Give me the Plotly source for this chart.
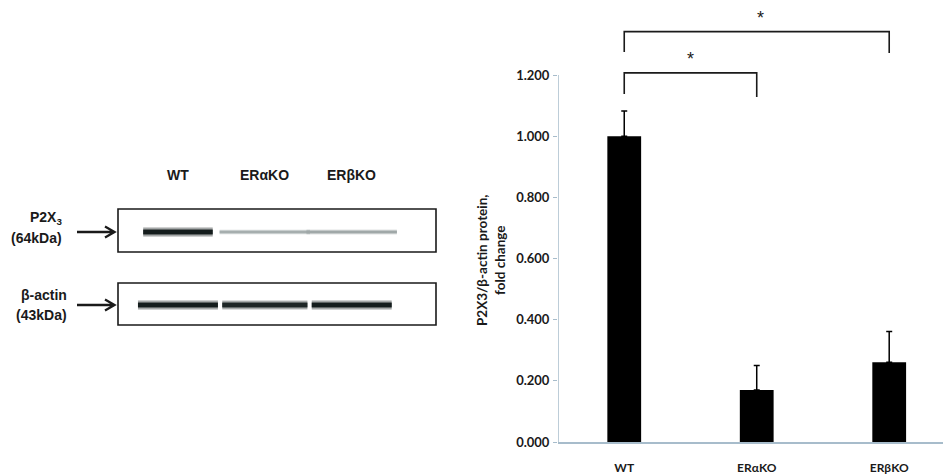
import plotly.graph_objects as go

W, H = 943, 476

# ---------------- data ----------------
categories = ["WT", "ERαKO", "ERβKO"]
fold_change = [1.000, 0.170, 0.261]
sem = [0.082, 0.080, 0.100]
y_ticks = [0.0, 0.2, 0.4, 0.6, 0.8, 1.0, 1.2]
# significance comparisons: (from idx, to idx, bracket level, leg bottom left, leg bottom right)
sig_pairs = [(0, 1, 1.207, 1.138, 1.128), (0, 2, 1.342, 1.275, 1.272)]
sig_label = "*"

# blot (schematic): relative band intensity per lane
blot_lanes = ["WT", "ERαKO", "ERβKO"]
p2x3_band = [1.0, 0.25, 0.28]
actin_band = [1.0, 0.95, 1.0]

AX = "#a7bccb"
TXT = "#1a1a1a"
FONT = "Lato"


def px(x):
    return x / W


def py(y):
    return 1 - y / H


fig = go.Figure()

# bar chart
fig.add_trace(go.Bar(
    x=list(range(len(categories))), y=fold_change, width=0.255,
    marker=dict(color="#000000", line=dict(color="#000000", width=0)),
    error_y=dict(type="data", symmetric=False, array=sem,
                 arrayminus=[0] * len(sem), color="#000000",
                 thickness=1.5, width=3),
    xaxis="x", yaxis="y", showlegend=False, hoverinfo="skip"))


# blot bands (schematic), drawn on hidden axes x2/y2
def band_color(v):
    g = int(round(215 - 195 * v))
    return f"rgb({g},{min(255, g + 8)},{min(255, g + 8)})"


rows = [(p2x3_band, [0.40, 0.52, 0.52]), (actin_band, [0.46, 0.49, 0.46])]
for r, (vals, hws) in enumerate(rows):
    for i, v in enumerate(vals):
        c = band_color(v)
        hw = hws[i]
        s = 0.35 + 0.65 * v
        for lw, op in [(10, 0.2), (7, 0.45), (4.5, 1.0)]:
            fig.add_trace(go.Scatter(
                x=[i - hw, i + hw], y=[r, r], mode="lines",
                line=dict(color=c, width=lw * s), opacity=op,
                xaxis="x2", yaxis="y2", showlegend=False, hoverinfo="skip"))

shapes = []
# y axis line only from 0 to 1.2
shapes.append(dict(type="line", xref="x", yref="y", x0=-0.5, x1=-0.5,
                   y0=0, y1=max(y_ticks), line=dict(color=AX, width=1.5)))
# significance brackets
for a, b, lev, la, lb in sig_pairs:
    shapes.append(dict(type="path", xref="x", yref="y",
                       path=f"M {a} {la} L {a} {lev} L {b} {lev} L {b} {lb}",
                       line=dict(color=TXT, width=1.6)))

# blot boxes
for (y0, y1) in [(209, 252), (283, 325)]:
    shapes.append(dict(type="rect", xref="paper", yref="paper",
                       x0=px(118), x1=px(436), y0=py(y1), y1=py(y0),
                       line=dict(color=TXT, width=1.6)))
# arrows
for yc in [232, 305]:
    shapes.append(dict(type="path", xref="paper", yref="paper",
                       path=(f"M {px(77)} {py(yc)} L {px(114)} {py(yc)} "
                             f"M {px(105)} {py(yc-5.5)} L {px(114.5)} {py(yc)} L {px(105)} {py(yc+5.5)}"),
                       line=dict(color=TXT, width=2.3)))

annotations = []
for a, b, lev, la, lb in sig_pairs:
    annotations.append(dict(xref="x", yref="y", x=(a + b) / 2 + (0.03 if b == 2 else 0),
                            y=lev + 0.045, text=sig_label, showarrow=False, yanchor="middle",
                            font=dict(family="Liberation Sans", size=18, color=TXT)))
# y title
annotations.append(dict(xref="paper", yref="paper", x=px(491), y=py(260),
                        text="P2X3/β-actin protein,<br>fold change", textangle=-90,
                        showarrow=False,
                        font=dict(family=FONT, size=13.5, color=TXT, weight="bold")))
# blot labels
lab_font = dict(family="Liberation Sans", size=14, color=TXT, weight="bold")
annotations.append(dict(xref="paper", yref="paper", x=px(64), y=py(218), xanchor="right",
                        text="P2X<sub>3</sub>", showarrow=False, font=lab_font))
annotations.append(dict(xref="paper", yref="paper", x=px(64), y=py(238), xanchor="right",
                        text="(64kDa)", showarrow=False, font=lab_font))
annotations.append(dict(xref="paper", yref="paper", x=px(69), y=py(295), xanchor="right",
                        text="β-actin", showarrow=False, font=lab_font))
annotations.append(dict(xref="paper", yref="paper", x=px(69), y=py(315), xanchor="right",
                        text="(43kDa)", showarrow=False, font=lab_font))
for i, lane in enumerate(blot_lanes):
    annotations.append(dict(xref="x2", yref="paper", x=i, y=py(175),
                            text=lane, showarrow=False, font=lab_font))

fig.update_layout(
    width=W, height=H, margin=dict(l=0, r=0, t=0, b=0, autoexpand=False),
    paper_bgcolor="white", plot_bgcolor="white",
    xaxis=dict(domain=[px(558), 1], range=[-0.5, 2.406],
               tickvals=list(range(len(categories))), ticktext=categories,
               showline=True, linecolor=AX, linewidth=1.5, ticks="",
               showgrid=False, zeroline=False, ticklabelstandoff=14, automargin=False,
               tickfont=dict(family=FONT, size=12, color=TXT, weight="bold")),
    yaxis=dict(domain=[py(442), 1], range=[0, 442 / 305.8],
               tickvals=y_ticks, tickformat=".3f", showline=False,
               ticks="outside", ticklen=4, tickcolor=AX, tickwidth=1.2,
               showgrid=False, zeroline=False, ticklabelstandoff=1, automargin=False,
               tickfont=dict(family=FONT, size=13, color=TXT, weight="bold")),
    xaxis2=dict(domain=[px(118), px(436)], range=[-0.69, 2.97], visible=False,
                anchor="y2", automargin=False),
    yaxis2=dict(domain=[py(325), py(209)], range=[1 + 20 / 73, -23 / 73], visible=False,
                anchor="x2", automargin=False),
    shapes=shapes, annotations=annotations,
)

fig.write_html("out.html", config={"displayModeBar": False},
               post_script="document.body.style.margin='0';document.body.style.overflow='hidden';")
